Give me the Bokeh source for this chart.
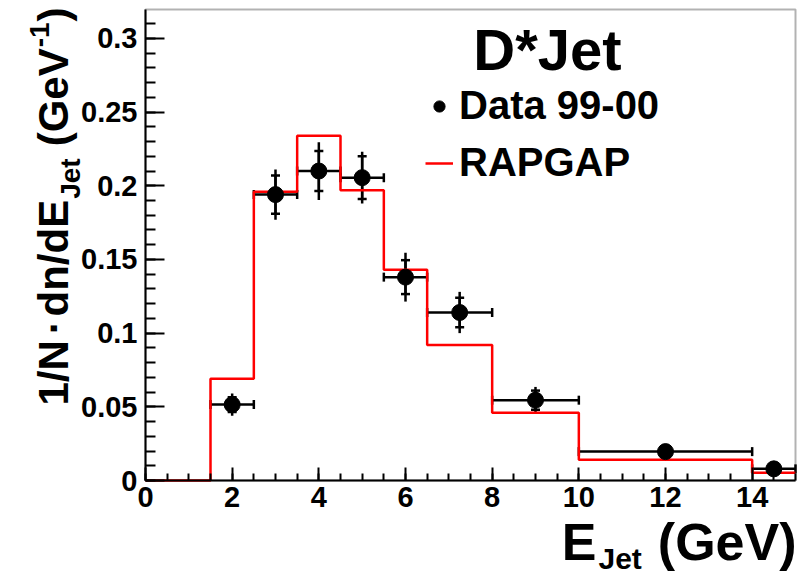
import math
import numpy as np
from bokeh.plotting import figure
from bokeh.models import (Range1d, FixedTicker, CustomJSTickFormatter, Whisker, TeeHead,
                          ColumnDataSource, Label, Legend, LegendItem, BoxAnnotation)
from bokeh.embed import file_html
from bokeh.resources import INLINE

# ---------------- data ----------------
x_data = [2, 3, 4, 5, 6, 7.25, 9, 12, 14.5]
x_low = [1.5, 2.5, 3.5, 4.5, 5.5, 6.5, 8, 10, 14]
x_high = [2.5, 3.5, 4.5, 5.5, 6.5, 8, 10, 14, 15]
y_data = [0.0515, 0.194, 0.210, 0.2055, 0.138, 0.114, 0.0545, 0.0196, 0.0079]
y_stat = [0.005, 0.013, 0.0135, 0.0145, 0.0115, 0.010, 0.0065, 0.002, 0.0015]
y_tot = [0.0075, 0.017, 0.0196, 0.0176, 0.0166, 0.014, 0.009, 0.003, 0.002]

mc_edges = [0, 1.5, 2.5, 3.5, 4.5, 5.5, 6.5, 8, 10, 14, 15]
mc_values = [0, 0.069, 0.196, 0.234, 0.197, 0.143, 0.092, 0.046, 0.014, 0.0052]

x_ticks = [0, 2, 4, 6, 8, 10, 12, 14]
x_tick_labels = ["0", "2", "4", "6", "8", "10", "12", "14"]
y_ticks = [0, 0.05, 0.1, 0.15, 0.2, 0.25, 0.3]
y_tick_labels = ["0", "0.05", "0.1", "0.15", "0.2", "0.25", "0.3"]

title_text = "D*Jet"
legend_labels = ["Data 99-00", "RAPGAP"]

# ---------------- layout ----------------
CW, CH = 799, 577
BOX_L, BOX_R, BOX_T, BOX_B = 145, 795, 9, 480     # data box in canvas pixels
X0, X1 = 0.0, 15.0
Y0, Y1 = 0.0, 0.3196
kx = (BOX_R - BOX_L) / (X1 - X0)
ky = (BOX_B - BOX_T) / (Y1 - Y0)
FONT = "Liberation Sans"

p = figure(width=CW, height=CH, output_backend="svg", toolbar_location=None,
           x_range=Range1d(X0 - BOX_L / kx, X1 + (CW - BOX_R) / kx),
           y_range=Range1d(Y0 - (CH - BOX_B) / ky, Y1 + BOX_T / ky),
           min_border=0)
p.xgrid.visible = False
p.ygrid.visible = False
p.outline_line_color = None
p.background_fill_color = "white"
p.border_fill_color = "white"

p.xaxis.fixed_location = 0
p.yaxis.fixed_location = 0
p.xaxis.bounds = (X0, X1)
p.yaxis.bounds = (Y0, Y1)
p.xaxis.ticker = FixedTicker(ticks=x_ticks, minor_ticks=list(np.arange(0, 15.01, 0.5)))
p.yaxis.ticker = FixedTicker(ticks=y_ticks, minor_ticks=list(np.round(np.arange(0, 0.3196, 0.01), 3)))
p.xaxis.formatter = CustomJSTickFormatter(args=dict(vals=x_ticks, labs=x_tick_labels),
    code="const i = vals.findIndex(v => Math.abs(v - tick) < 1e-9); return i >= 0 ? labs[i] : '';")
p.yaxis.formatter = CustomJSTickFormatter(args=dict(vals=y_ticks, labs=y_tick_labels),
    code="const i = vals.findIndex(v => Math.abs(v - tick) < 1e-9); return i >= 0 ? labs[i] : '';")

for ax in (p.xaxis[0], p.yaxis[0]):
    ax.axis_line_width = 2
    ax.major_tick_line_width = 2
    ax.minor_tick_line_width = 2
    ax.major_tick_out = 0
    ax.minor_tick_out = 0
    ax.major_label_text_font = FONT
    ax.major_label_text_font_style = "bold"
    ax.major_label_text_font_size = "29px"
    ax.major_label_text_color = "black"
p.xaxis.major_tick_in = 13
p.xaxis.minor_tick_in = 7
p.yaxis.major_tick_in = 19
p.yaxis.minor_tick_in = 10
p.xaxis.major_label_standoff = 6
p.yaxis.major_label_standoff = 8

# frame of the data box
p.add_layout(BoxAnnotation(left=X0, right=X1, bottom=Y0, top=Y1, fill_alpha=0,
                           line_color="black", line_width=2))

# ---------------- RAPGAP histogram ----------------
step_r = p.step(x=mc_edges, y=mc_values + [mc_values[-1]], mode="after",
                line_color="red", line_width=2.5)

# ---------------- data points ----------------
src = ColumnDataSource(dict(
    x=x_data, y=y_data, xl=x_low, xh=x_high,
    sl=[y - e for y, e in zip(y_data, y_stat)], sh=[y + e for y, e in zip(y_data, y_stat)],
    tl=[y - e for y, e in zip(y_data, y_tot)], th=[y + e for y, e in zip(y_data, y_tot)],
))
p.add_layout(Whisker(source=src, base="x", lower="tl", upper="th", dimension="height",
                     line_color="black", line_width=2.5, upper_head=None, lower_head=None))
p.add_layout(Whisker(source=src, base="x", lower="sl", upper="sh", dimension="height",
                     line_color="black", line_width=2.5,
                     upper_head=TeeHead(size=9, line_width=2.5, line_color="black"),
                     lower_head=TeeHead(size=9, line_width=2.5, line_color="black")))
p.add_layout(Whisker(source=src, base="y", lower="xl", upper="xh", dimension="width",
                     line_color="black", line_width=2.5,
                     upper_head=TeeHead(size=9, line_width=2.5, line_color="black"),
                     lower_head=TeeHead(size=9, line_width=2.5, line_color="black")))
pts = p.scatter("x", "y", source=src, size=16, marker="circle",
                fill_color="black", line_color="black")

# ---------------- legend ----------------
legend = Legend(items=[LegendItem(label=legend_labels[0], renderers=[pts]),
                       LegendItem(label=legend_labels[1], renderers=[step_r])],
                location=(425, 392), orientation="vertical",
                label_text_font=FONT, label_text_font_style="bold",
                label_text_font_size="40px", label_text_color="black",
                glyph_width=28, glyph_height=40, label_height=40, spacing=12,
                padding=0, margin=0, label_standoff=6,
                border_line_alpha=0, background_fill_alpha=0)
p.add_layout(legend)

# ---------------- texts ----------------
WID = {'1': 556, '/': 278, 'N': 722, ' ': 278, '·': 278, 'd': 611, 'n': 611, 'E': 667,
       'J': 556, 'e': 556, 't': 333, '(': 333, 'G': 778, 'V': 667, ')': 333, '-': 333}
MID = 0.36   # distance from baseline to text middle, in em


def tw(s, size):
    return sum(WID[c] for c in s) / 1000.0 * size


def htext(text, cx, baseline, size, align="left"):
    """horizontal text; cx, baseline in canvas pixels (y from top)"""
    p.add_layout(Label(x=cx, y=CH - (baseline - MID * size), x_units="screen", y_units="screen",
                       text=text, text_align=align, text_baseline="middle",
                       text_font=FONT, text_font_style="bold",
                       text_font_size=f"{size}px", text_color="black"))


def vtext(text, baseline_x, cy_start, size):
    """text rotated 90 deg, reading upwards from canvas y cy_start"""
    p.add_layout(Label(x=baseline_x - MID * size, y=CH - cy_start, x_units="screen",
                       y_units="screen", angle=math.pi / 2,
                       text=text, text_align="left", text_baseline="middle",
                       text_font=FONT, text_font_style="bold",
                       text_font_size=f"{size}px", text_color="black"))


# title
htext(title_text, 547, 70, 58, align="center")

# x-axis title
F2, S2 = 52, 30
htext("E", 596, 560, F2, align="right")
htext("Jet", 598, 569, S2, align="left")
htext("(GeV)", 796, 560, F2, align="right")

# y-axis title: (text, size, baseline shift, gap after in px)
F1, S1 = 42, 28
BX = 68
pieces = [("1/N", F1, 0, 6), ("·", F1, 0, 6), ("dn/dE", F1, 0, 1), ("Jet", S1, 12, 12),
          ("(GeV", F1, 0, 1), ("-1", S1, -19, 1), (")", F1, 0, 0)]
cy = 405
for t, s, sh, g in pieces:
    vtext(t, BX + sh, cy, s)
    cy -= tw(t, s) + g

open("out.html", "w").write(file_html(p, INLINE))
